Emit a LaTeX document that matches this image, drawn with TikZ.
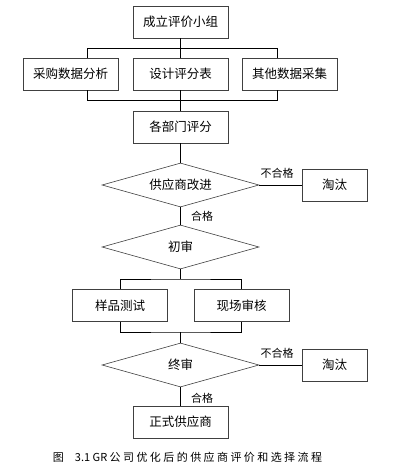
\documentclass[tikz,border=0pt]{standalone}
\usepackage{fontspec}
\newfontfamily\cjk{Noto Sans CJK SC}
\newfontfamily\cjkcap[LetterSpace=22]{Noto Sans CJK SC}
\usetikzlibrary{shapes.geometric}
\usetikzlibrary{positioning}

\begin{document}
\begin{tikzpicture}[
    x=1pt, y=-1pt,
    every node/.style={
        font=\cjk\fontsize{12.5}{14}\selectfont
    },
    stage/.style={
        minimum width=95pt, minimum height=32pt,
        inner sep=0pt,
        text centered,
        rectangle,
        draw=black!75,
        line width=0.6pt
    },
    check/.style={
        minimum width=157pt, minimum height=44pt,
        inner sep=0pt,
        aspect=3.57,
        text centered,
        diamond,
        draw=black!75,
        line width=0.6pt
    },
    reject/.style={
        minimum width=65pt, minimum height=32pt,
        inner sep=0pt,
        text centered,
        rectangle,
        draw=black!75,
        line width=0.6pt
    },
    verdict/.style={
        font=\cjk\fontsize{11}{12}\selectfont
    },
    link/.style={
        line width=0.8pt
    }
]
\useasboundingbox (0,0) rectangle (419,466);

\node (n1) [stage]  at (180.5,22)  {成立评价小组};
\node (n2) [stage]  at (70.5,74)   {采购数据分析};
\node (n3) [stage]  at (180.5,74)  {设计评分表};
\node (n4) [stage]  at (289.5,74)  {其他数据采集};
\node (n5) [stage]  at (180.5,127) {各部门评分};
\node (d1) [check]  at (180.5,185) {供应商改进};
\node (r1) [reject] at (334.5,185) {淘汰};
\node (d2) [check]  at (180.5,247) {初审};
\node (n6) [stage]  at (120,305.5) {样品测试};
\node (n7) [stage]  at (241.5,305.5) {现场审核};
\node (d3) [check]  at (180.5,365) {终审};
\node (r2) [reject] at (334.5,365) {淘汰};
\node (n8) [stage]  at (180.5,422) {正式供应商};
\node (cap) at (187.5,457) {\fontsize{11}{12}\selectfont{\cjkcap 图}\quad 3.1 GR\ {\cjkcap 公司优化后的供应商评价和选择流程}};

\coordinate (tl) at (87,48);
\coordinate (tr) at (277,48);
\coordinate (bl) at (87,100);
\coordinate (br) at (277,100);
\coordinate (m1) at (180.5,279);
\coordinate (m2) at (180.5,332);

\draw[link] (n1.south) -- (n3.north);
\draw[link] (tl |- n2.north) -- (tl) -- (tr) -- (tr |- n4.north);
\draw[link] (bl |- n2.south) -- (bl) -- (br) -- (br |- n4.south);
\draw[link] (n3.south) -- (n5.north);
\draw[link] (n5.south) -- (d1.north);
\draw[link] (d1.east) -- node[verdict, above=3pt, pos=0.42] {不合格} (r1.west);
\draw[link] (d1.south) -- node[verdict, right=7pt] {合格} (d2.north);
\draw[link] (d2.south) -- (m1);
\draw[link] (n6.north) |- (m1) -| (n7.north);
\draw[link] (n6.south) |- (m2) -| (n7.south);
\draw[link] (m2) -- (d3.north);
\draw[link] (d3.east) -- node[verdict, above=3pt, pos=0.42] {不合格} (r2.west);
\draw[link] (d3.south) -- node[verdict, right=7pt, pos=0.6] {合格} (n8.north);
\end{tikzpicture}
\end{document}
